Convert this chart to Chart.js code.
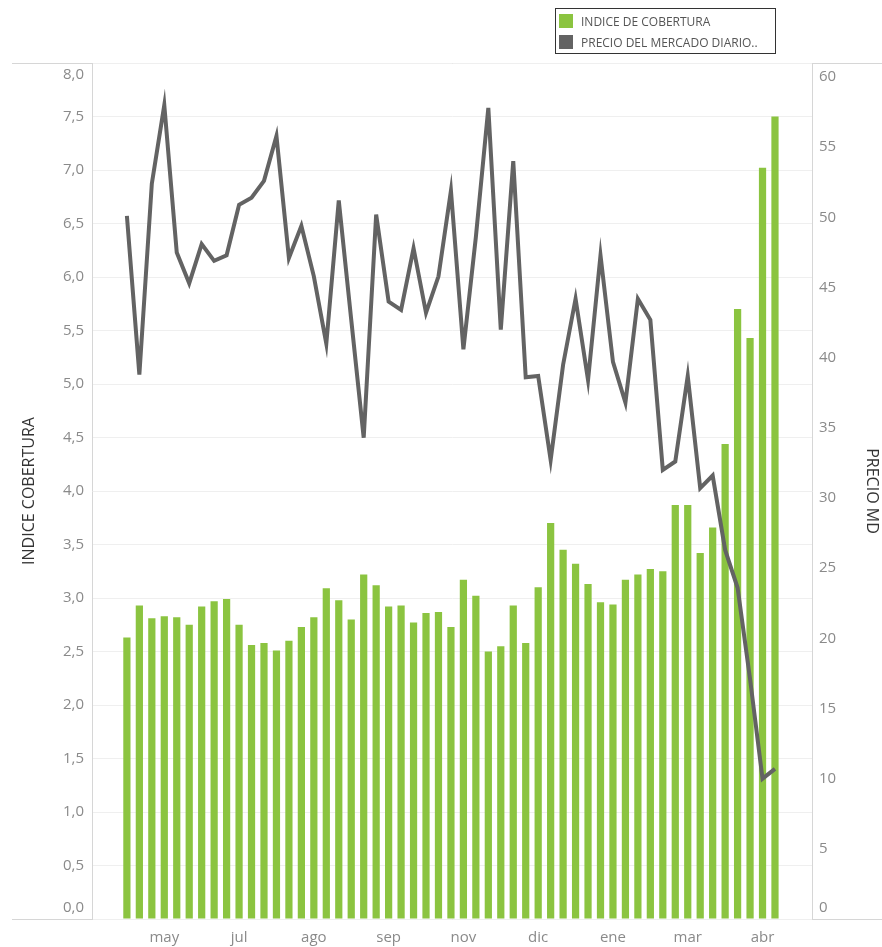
<!DOCTYPE html>
<html>
<head>
<meta charset="utf-8">
<script src="https://cdn.jsdelivr.net/npm/chart.js@4/dist/chart.umd.min.js"></script>
<style>
  body { margin:0; background:#fff; font-family:"Open Sans", sans-serif; }
  #wrap { position:relative; width:882px; height:947px; }
  #legend {
    position:absolute; left:555px; top:8px; width:221px; height:46px;
    border:1px solid #333; box-sizing:border-box; padding:2px 0 0 3px;
    font-size:12px; color:#555; line-height:21px;
  }
  #legend span.sw { display:inline-block; width:14px; height:14px; vertical-align:-2px; margin-right:8px; }
</style>
</head>
<body>
<div id="wrap">
  <canvas id="c" width="882" height="947"></canvas>
  <div id="legend">
    <div><span class="sw" style="background:#8bc440"></span>INDICE DE COBERTURA</div>
    <div><span class="sw" style="background:#636363"></span>PRECIO DEL MERCADO DIARIO..</div>
  </div>
</div>
<script>
// weekly values, index 0 = first week
const cobertura = [2.63, 2.93, 2.81, 2.83, 2.82, 2.75, 2.92, 2.97, 2.99, 2.75,
  2.56, 2.58, 2.51, 2.60, 2.73, 2.82, 3.09, 2.98, 2.80, 3.22,
  3.12, 2.92, 2.93, 2.77, 2.86, 2.87, 2.73, 3.17, 3.02, 2.50,
  2.55, 2.93, 2.58, 3.10, 3.70, 3.45, 3.32, 3.13, 2.96, 2.94,
  3.17, 3.22, 3.27, 3.25, 3.87, 3.87, 3.42, 3.66, 4.44, 5.70,
  5.43, 7.02, 7.50];

const precio = [50.1, 38.8, 52.4, 58.0, 47.5, 45.3, 48.1, 46.9, 47.3, 50.9,
  51.4, 52.6, 55.8, 47.1, 49.4, 45.8, 41.0, 51.2, 42.7, 34.3,
  50.2, 44.0, 43.4, 47.8, 43.2, 45.8, 51.9, 40.6, 48.6, 57.8,
  42.0, 54.0, 38.6, 38.7, 32.7, 39.5, 44.2, 38.4, 47.3, 39.7,
  36.8, 44.2, 42.7, 32.0, 32.6, 38.7, 30.7, 31.6, 26.3, 23.6,
  17.1, 10.0, 10.7];

const monthTickWeeks = [3, 9, 15, 21, 27, 33, 39, 45, 51];
const monthTickLabels = ["may", "jul", "ago", "sep", "nov", "dic", "ene", "mar", "abr"];

const comma = v => v.toFixed(1).replace(".", ",");

// frame lines past the axes + y tick labels kept inside the plot height (Tableau style)
const frameLines = {
  id:"frameLines",
  beforeDraw(chart) {
    const { ctx, chartArea:a } = chart;
    ctx.save();
    ctx.strokeStyle = "#d6d6d6";
    ctx.lineWidth = 1;
    ctx.beginPath();
    ctx.moveTo(12, a.top + 0.5); ctx.lineTo(882, a.top + 0.5);
    ctx.moveTo(12, a.bottom + 0.5); ctx.lineTo(882, a.bottom + 0.5);
    ctx.stroke();
    ctx.restore();
  },
  afterDraw(chart) {
    const { ctx, chartArea:a, scales } = chart;
    ctx.save();
    ctx.font = "15px 'Open Sans'";
    ctx.fillStyle = "#8a8a8a";
    ctx.textBaseline = "middle";
    const clamp = y => Math.min(Math.max(y, a.top + 12), a.bottom - 11);
    ctx.textAlign = "right";
    scales.y.ticks.forEach(t => {
      ctx.fillText(comma(t.value), a.left - 8, clamp(scales.y.getPixelForValue(t.value)));
    });
    ctx.textAlign = "left";
    scales.y1.ticks.forEach(t => {
      ctx.fillText(String(t.value), a.right + 7, clamp(scales.y1.getPixelForValue(t.value)));
    });
    ctx.restore();
  }
};

new Chart(document.getElementById("c"), {
  type:"bar",
  data:{
    datasets:[
      {
        type:"line",
        data:precio.map((v, i) => ({ x:i, y:v })),
        yAxisID:"y1",
        borderColor:"#636363",
        borderWidth:4,
        pointRadius:0,
        tension:0,
        order:0
      },
      {
        type:"bar",
        data:cobertura.map((v, i) => ({ x:i, y:v })),
        yAxisID:"y",
        backgroundColor:"#8bc440",
        categoryPercentage:1,
        barPercentage:0.58,
        order:1
      }
    ]
  },
  options:{
    responsive:false,
    animation:false,
    layout:{ padding:{ top:63, left:0, right:0, bottom:0 } },
    plugins:{ legend:{ display:false }, tooltip:{ enabled:false } },
    scales:{
      x:{
        type:"linear",
        offset:false,
        min:-2.8,
        max:54.97,
        afterFit:s => { s.height = 28; },
        grid:{ display:false, drawTicks:false },
        border:{ display:false },
        afterBuildTicks:s => { s.ticks = monthTickWeeks.map(v => ({ value:v })); },
        ticks:{
          color:"#8a8a8a",
          font:{ family:"Open Sans", size:15 },
          padding:10,
          maxRotation:0,
          autoSkip:false,
          callback:v => monthTickLabels[monthTickWeeks.indexOf(v)]
        }
      },
      y:{
        position:"left",
        min:0,
        max:8,
        afterFit:s => { s.width = 92; },
        grid:{ color:"#efefef", drawTicks:false },
        border:{ color:"#d6d6d6" },
        ticks:{
          stepSize:0.5,
          color:"rgba(0,0,0,0)",
          font:{ family:"Open Sans", size:15 },
          padding:8,
          callback:v => comma(v)
        },
        title:{
          display:true,
          text:"INDICE COBERTURA",
          color:"#333",
          font:{ family:"Open Sans", size:16, lineHeight:1.2 },
          padding:{ top:19.4, bottom:0 }
        }
      },
      y1:{
        position:"right",
        min:0,
        max:61,
        afterFit:s => { s.width = 70; },
        grid:{ display:false, drawTicks:false },
        border:{ color:"#d6d6d6" },
        ticks:{
          stepSize:5,
          includeBounds:false,
          color:"rgba(0,0,0,0)",
          font:{ family:"Open Sans", size:15 },
          padding:7
        },
        title:{
          display:true,
          text:"PRECIO MD",
          color:"#333",
          font:{ family:"Open Sans", size:16, lineHeight:1.2 },
          padding:{ top:0.4, bottom:0 }
        }
      }
    }
  },
  plugins:[frameLines]
});
</script>
</body>
</html>
